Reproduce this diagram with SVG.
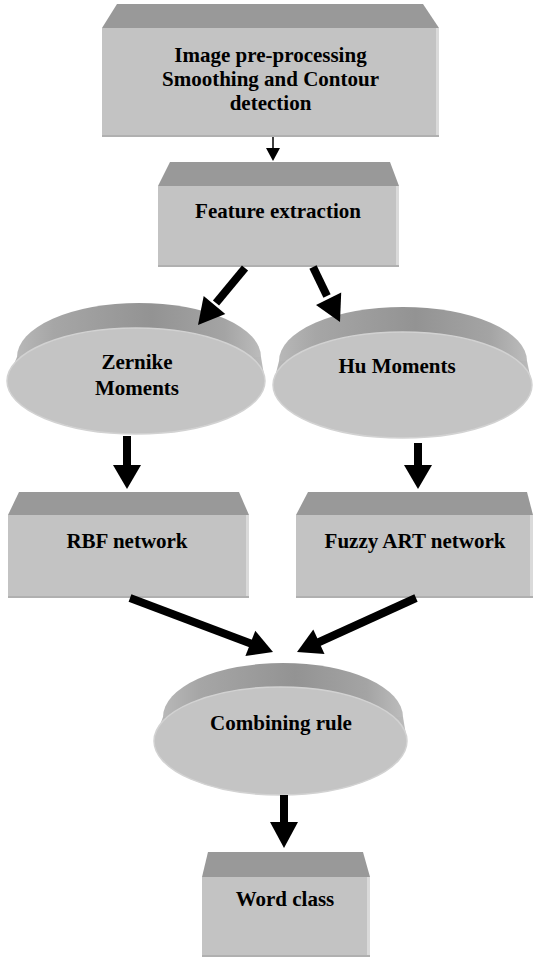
<svg xmlns="http://www.w3.org/2000/svg" width="535" height="960" viewBox="0 0 535 960">
<defs>
<style>
.bevel{fill:#999999}
.front{fill:#c3c3c3}
.rim{fill:#dadada}
.base{fill:#b0b0b0}
.band{fill:url(#bandGrad)}
.disc{fill:#c4c4c4;stroke:#d2d2d2;stroke-width:1.5}
.lbl{font-family:"Liberation Serif","Times New Roman",serif;font-weight:bold;font-size:21px;fill:#000;text-anchor:middle}
.thick{stroke:#000;stroke-width:8;fill:none}
.thin{stroke:#000;stroke-width:1.5;fill:none}
.head{fill:#000}
</style>
<linearGradient id="bandGrad" x1="0" y1="0" x2="1" y2="0">
<stop offset="0" stop-color="#b8b8b8"/>
<stop offset="0.15" stop-color="#a6a6a6"/>
<stop offset="0.55" stop-color="#939393"/>
<stop offset="0.85" stop-color="#a4a4a4"/>
<stop offset="1" stop-color="#bcbcbc"/>
</linearGradient>
</defs>
<rect width="535" height="960" fill="#ffffff"/>

<g id="node-preprocessing">
<polygon class="bevel" points="117,4 423,4 439,28 102,28"/>
<rect class="front" x="102" y="28" width="337" height="109"/>
<rect class="rim" x="436" y="28" width="3" height="109"/>
<rect class="base" x="102" y="135" width="337" height="2"/>
<text class="lbl" x="270.5" y="62">Image pre-processing</text>
<text class="lbl" x="270.5" y="86">Smoothing and Contour</text>
<text class="lbl" x="270.5" y="110">detection</text>
</g>

<g id="node-feature">
<polygon class="bevel" points="170,162 390,162 399,186 158,186"/>
<rect class="front" x="158" y="186" width="241" height="81"/>
<rect class="rim" x="396" y="186" width="3" height="81"/>
<rect class="base" x="158" y="265" width="241" height="2"/>
<text class="lbl" x="278" y="218">Feature extraction</text>
</g>

<g id="node-zernike">
<ellipse class="band" cx="139" cy="357" rx="122" ry="54"/>
<polygon class="band" points="17,357 261,357 265,381 7,381"/>
<ellipse class="disc" cx="136" cy="381" rx="129" ry="53"/>
<text class="lbl" x="137" y="369">Zernike</text>
<text class="lbl" x="137" y="395">Moments</text>
</g>

<g id="node-hu">
<ellipse class="band" cx="403" cy="361" rx="124" ry="54"/>
<polygon class="band" points="279,361 527,361 532,385 273,385"/>
<ellipse class="disc" cx="402.5" cy="385" rx="129.5" ry="53"/>
<text class="lbl" x="397" y="373">Hu Moments</text>
</g>

<g id="node-rbf">
<polygon class="bevel" points="19,492 239,492 249,515 8,515"/>
<rect class="front" x="8" y="515" width="241" height="83"/>
<rect class="rim" x="246" y="515" width="3" height="83"/>
<rect class="base" x="8" y="596" width="241" height="2"/>
<text class="lbl" x="127" y="548">RBF network</text>
</g>

<g id="node-fuzzy">
<polygon class="bevel" points="308,492 527,492 533,515 296,515"/>
<rect class="front" x="296" y="515" width="237" height="83"/>
<rect class="rim" x="530" y="515" width="3" height="83"/>
<rect class="base" x="296" y="596" width="237" height="2"/>
<text class="lbl" x="415" y="548">Fuzzy ART network</text>
</g>

<g id="node-combining">
<ellipse class="band" cx="283" cy="717" rx="120" ry="54"/>
<polygon class="band" points="163,717 403,717 407,741 154,741"/>
<ellipse class="disc" cx="280.5" cy="741" rx="126.5" ry="54"/>
<text class="lbl" x="281" y="730">Combining rule</text>
</g>

<g id="node-word">
<polygon class="bevel" points="208,852 363,852 370,877 202,877"/>
<rect class="front" x="202" y="877" width="168" height="80"/>
<rect class="rim" x="367" y="877" width="3" height="80"/>
<rect class="base" x="202" y="955" width="168" height="2"/>
<text class="lbl" x="285" y="906">Word class</text>
</g>

<g id="connectors">
<line class="thin" x1="273" y1="137" x2="273" y2="150"/>
<polygon class="head" points="266,148 280,148 273,161"/>

<line class="thick" x1="245" y1="268" x2="216" y2="303"/>
<polygon class="head" points="198,325 225.3,313.9 203.7,296.1"/>

<line class="thick" x1="313" y1="267" x2="327" y2="296"/>
<polygon class="head" points="340,322 341.2,292.5 316,304.9"/>

<line class="thick" x1="127" y1="436" x2="127" y2="468"/>
<polygon class="head" points="113,465 141,465 127,489"/>

<line class="thick" x1="418" y1="443" x2="418" y2="468"/>
<polygon class="head" points="404,465 432,465 418,489"/>

<line class="thick" x1="130" y1="598" x2="252" y2="644"/>
<polygon class="head" points="273,652 245.4,656 255.3,630.8"/>

<line class="thick" x1="416" y1="598" x2="317" y2="643"/>
<polygon class="head" points="297,652 324.5,654 313.3,629.5"/>

<line class="thick" x1="284" y1="795" x2="284" y2="826"/>
<polygon class="head" points="270,822 298,822 284,848"/>
</g>
</svg>
